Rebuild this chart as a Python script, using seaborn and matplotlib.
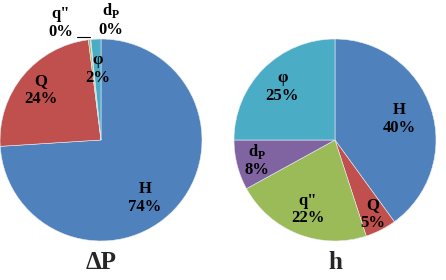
import numpy as np
import matplotlib
matplotlib.use("Agg")
import matplotlib.pyplot as plt
import seaborn as sns

sns.set_style("white")
plt.rcParams['font.family'] = ['Liberation Serif', 'DejaVu Serif']
plt.rcParams['mathtext.fontset'] = 'custom'
plt.rcParams['mathtext.rm'] = 'Liberation Serif:bold'
plt.rcParams['mathtext.bf'] = 'Liberation Serif:bold'

# slice order clockwise from 12 o'clock
factors = ['H', 'Q', 'q"', r'd$_\mathbf{P}$', 'φ']
dp_share = [74, 24, 0.3, 0.1, 1.6]    # pressure drop contributions (%)
h_share = [40, 5, 22, 8, 25]           # heat transfer coeff contributions (%)
titles = ['ΔP', 'h']
colors = ['#4F81BD', '#C0504D', '#9BBB59', '#8064A2', '#4BACC6']

W, H = 446, 280
fig = plt.figure(figsize=(W / 100, H / 100), dpi=100)

R = 101
centers = [(101, 140), (335, 140)]
label_r = [[0.72, 0.77, None, None, 0.70], [0.67, 0.82, 0.74, 0.80, 0.74]]
font = dict(fontsize=12, fontweight='bold', ha='center', va='center',
            linespacing=1.15, color='black')

for k, (vals, title) in enumerate(zip([dp_share, h_share], titles)):
    cx, cy = centers[k]
    ax = fig.add_axes([(cx - R) / W, (H - cy - R) / H, 2 * R / W, 2 * R / H])
    wedges, _ = ax.pie(vals, colors=colors, startangle=90, counterclock=False,
                       wedgeprops=dict(linewidth=0.4, edgecolor='#e8eef5'))
    ax.set_xlim(-1, 1)
    ax.set_ylim(-1, 1)
    ax.set_aspect('equal')
    ax.axis('off')
    for i, (w, v) in enumerate(zip(wedges, vals)):
        txt = f"{factors[i]}\n{round(v):.0f}%"
        r = label_r[k][i]
        if r is None:
            continue
        ang = np.deg2rad((w.theta1 + w.theta2) / 2)
        if k == 0 and i == 0:
            ang = np.deg2rad(-53)
        ax.text(r * np.cos(ang), r * np.sin(ang), txt, **font)
    if k == 0:
        # tiny slices labelled outside the pie
        ax.text(-0.40, 1.16, f"{factors[2]}\n{round(vals[2]):.0f}%", **font)
        ax.text(0.10, 1.19, f"{factors[3]}\n{round(vals[3]):.0f}%", **font)
        ax.plot([-0.24, -0.11], [1.02, 1.02], color='black', lw=0.8, clip_on=False)
    ax.text(0, -1.21, title, fontsize=18, fontweight='bold', ha='center', va='center')

fig.savefig("out.png", dpi=100)
